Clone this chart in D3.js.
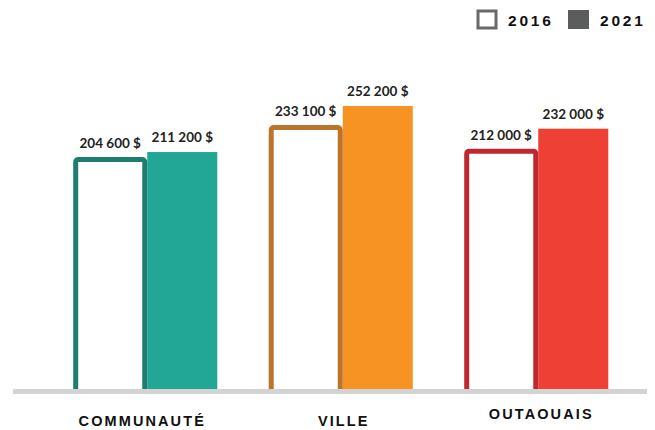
<!DOCTYPE html>
<html>
<head>
<meta charset="utf-8">
<script src="https://cdn.jsdelivr.net/npm/d3@7/dist/d3.min.js"></script>
<style>
  html, body { margin: 0; padding: 0; background: #fff; }
  svg { display: block; }
</style>
</head>
<body>
<svg id="chart" width="655" height="430"></svg>
<script>
// Median values by territory, 2016 vs 2021
const categories = ["COMMUNAUTÉ", "VILLE", "OUTAOUAIS"];
const years = ["2016", "2021"];
const values2016 = [204600, 233100, 212000];
const values2021 = [211200, 252200, 232000];
const valueLabels2016 = ["204 600 $", "233 100 $", "212 000 $"];
const valueLabels2021 = ["211 200 $", "252 200 $", "232 000 $"];

// Per-territory palette: outline shade for 2016, solid fill for 2021
const outlineColors = ["#1f7d70", "#b9752b", "#c1282e"];
const fillColors = ["#22a796", "#f69323", "#ee4035"];

const svg = d3.select("#chart");
const baseY = 389;

const x0 = d3.scaleBand()
  .domain(categories)
  .range([47.5, 634])
  .paddingInner(0.263)
  .paddingOuter(0.1315);

const x1 = d3.scaleBand()
  .domain(years)
  .range([0, x0.bandwidth()]);

const y = d3.scaleLinear()
  .domain([0, 300000])
  .range([baseY, baseY - 336.6]);

const data = categories.map((c, i) => ({
  cat: c,
  i,
  v2016: values2016[i],
  v2021: values2021[i],
  l2016: valueLabels2016[i],
  l2021: valueLabels2021[i]
}));

const sw = 5;
const groups = svg.append("g").selectAll("g")
  .data(data)
  .join("g")
  .attr("transform", d => `translate(${x0(d.cat)},0)`);

// 2021 solid bars
groups.append("rect")
  .attr("x", x1("2021") + 2)
  .attr("width", x1.bandwidth() - 2)
  .attr("y", d => y(d.v2021))
  .attr("height", d => baseY + 3 - y(d.v2021))
  .attr("fill", d => fillColors[d.i]);

// 2016 outlined bars (bottom edge hidden under the baseline)
groups.append("rect")
  .attr("x", x1("2016") + sw / 2)
  .attr("width", x1.bandwidth() + 2 - sw)
  .attr("y", d => y(d.v2016))
  .attr("height", d => baseY + 2.5 - y(d.v2016))
  .attr("rx", 2.5)
  .attr("fill", "#fff")
  .attr("stroke", d => outlineColors[d.i])
  .attr("stroke-width", sw);

// Value labels
const valueFont = "Lato, 'Open Sans', sans-serif";
groups.append("text")
  .attr("x", x1("2016") + (x1.bandwidth() + 2) / 2)
  .attr("y", d => y(d.v2016) - 11)
  .attr("text-anchor", "middle")
  .attr("font-family", valueFont)
  .attr("font-weight", 700)
  .attr("font-size", 13.5)
  .attr("fill", "#222")
  .text(d => d.l2016);

groups.append("text")
  .attr("x", x1("2021") + 1 + x1.bandwidth() / 2)
  .attr("y", d => y(d.v2021) - 10)
  .attr("text-anchor", "middle")
  .attr("font-family", valueFont)
  .attr("font-weight", 700)
  .attr("font-size", 13.5)
  .attr("fill", "#222")
  .text(d => d.l2021);

// Baseline
svg.append("rect")
  .attr("x", 13)
  .attr("y", baseY)
  .attr("width", 634)
  .attr("height", 5)
  .attr("fill", "#d3d3d3");

// Category labels
const catFont = "'Liberation Sans', Arial, sans-serif";
const catDy = [0, 0, -7];
const catDx = [-3, 3, 5];
svg.append("g").selectAll("text")
  .data(data)
  .join("text")
  .attr("x", d => x0(d.cat) + x0.bandwidth() / 2 + catDx[d.i])
  .attr("y", d => 426 + catDy[d.i])
  .attr("text-anchor", "middle")
  .attr("font-family", catFont)
  .attr("font-weight", 700)
  .attr("font-size", 14.5)
  .attr("letter-spacing", 2.1)
  .attr("fill", "#111")
  .text(d => d.cat);

// Legend
const legend = svg.append("g");
legend.append("rect")
  .attr("x", 478).attr("y", 11)
  .attr("width", 18).attr("height", 17)
  .attr("fill", "#fff")
  .attr("stroke", "#696969")
  .attr("stroke-width", 3);
legend.append("text")
  .attr("x", 508).attr("y", 26)
  .attr("font-family", catFont)
  .attr("font-weight", 700)
  .attr("font-size", 15.5)
  .attr("letter-spacing", 2.8)
  .attr("fill", "#111")
  .text(years[0]);
legend.append("rect")
  .attr("x", 568).attr("y", 10)
  .attr("width", 21).attr("height", 19)
  .attr("fill", "#5b5d5d");
legend.append("text")
  .attr("x", 600).attr("y", 26)
  .attr("font-family", catFont)
  .attr("font-weight", 700)
  .attr("font-size", 15.5)
  .attr("letter-spacing", 2.8)
  .attr("fill", "#111")
  .text(years[1]);
</script>
</body>
</html>
